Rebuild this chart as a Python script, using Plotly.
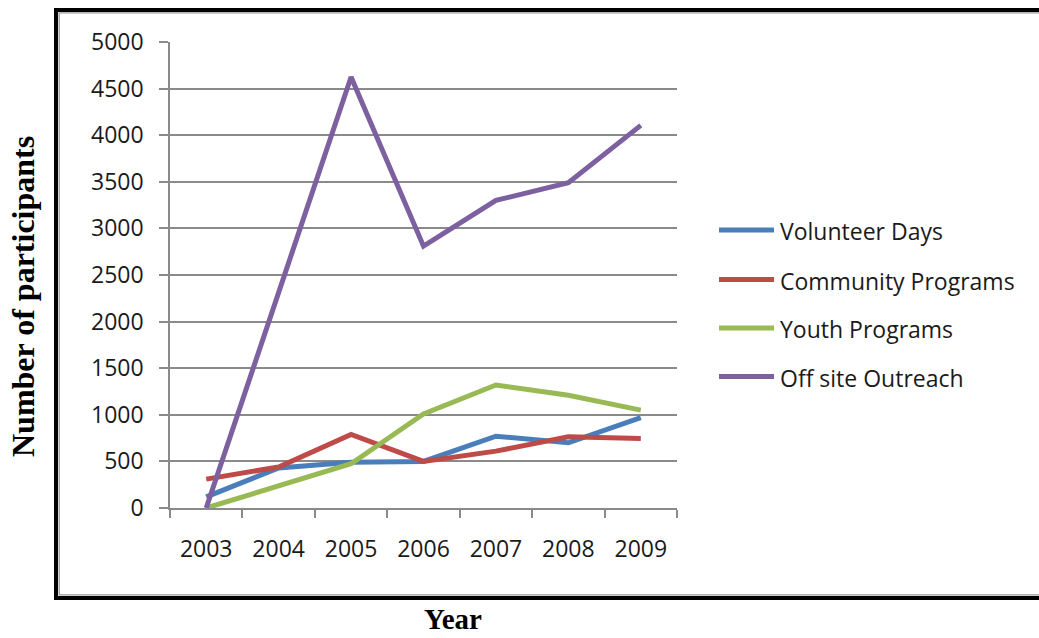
import plotly.graph_objects as go

# ---------------- data ----------------
years = ["2003", "2004", "2005", "2006", "2007", "2008", "2009"]
volunteer_days = [120, 430, 490, 500, 770, 700, 970]
community_programs = [310, 440, 790, 500, 610, 765, 745]
youth_programs = [0, 240, 475, 1010, 1320, 1210, 1050]
off_site_outreach = [0, 2320, 4625, 2810, 3300, 3490, 4105]
series_names = ["Volunteer Days", "Community Programs", "Youth Programs", "Off site Outreach"]
series_values = [volunteer_days, community_programs, youth_programs, off_site_outreach]
series_colors = ["#4A7EBB", "#BE4B48", "#98B954", "#7D60A0"]
y_ticks = [0, 500, 1000, 1500, 2000, 2500, 3000, 3500, 4000, 4500, 5000]

# ---------------- layout helpers (pixel -> paper) ----------------
W, H = 1039, 638
PL, PR, PT, PB = 170, 677, 42, 508


def px(x):
    return (x - PL) / (PR - PL)


def py(y):
    return (PB - y) / (PB - PT)


TICK_FONT = dict(family="Open Sans, Noto Sans, sans-serif", size=23, color="#1a1a1a")
YTITLE_FONT = dict(family="Liberation Serif, Times New Roman, serif", size=32, color="#000000")
XTITLE_FONT = dict(family="Liberation Serif, Times New Roman, serif", size=29, color="#000000")
GRID = "#8a8a8a"

fig = go.Figure()
for name, vals, col in zip(series_names, series_values, series_colors):
    fig.add_trace(go.Scatter(
        x=years, y=vals, mode="lines", name=name,
        line=dict(color=col, width=5),
        showlegend=False,
    ))

fig.update_layout(
    width=W, height=H,
    margin=dict(l=PL, r=W - PR, t=PT, b=H - PB, pad=0),
    paper_bgcolor="white",
    plot_bgcolor="white",
    xaxis=dict(
        type="category", range=[-0.5, len(years) - 0.5],
        tickson="boundaries", ticks="outside", ticklen=8, tickwidth=1.5, tickcolor=GRID,
        showline=True, linecolor=GRID, linewidth=1.5,
        showgrid=False, zeroline=False,
        tickfont=TICK_FONT, ticklabelstandoff=20,
    ),
    yaxis=dict(
        range=[0, 5000], tickvals=y_ticks, ticktext=[str(v) for v in y_ticks],
        ticks="outside", ticklen=9, tickwidth=1.5, tickcolor=GRID,
        showline=True, linecolor=GRID, linewidth=1.5,
        showgrid=True, gridcolor=GRID, gridwidth=1.5, zeroline=False,
        tickfont=TICK_FONT, ticklabelstandoff=11,
    ),
)

shapes = []
# outer frame (black) and inner grey rule
shapes.append(dict(type="rect", xref="paper", yref="paper",
                   x0=px(56), x1=px(1050), y0=py(598), y1=py(10),
                   line=dict(color="black", width=4), fillcolor="rgba(0,0,0,0)", layer="below"))
shapes.append(dict(type="rect", xref="paper", yref="paper",
                   x0=px(59.2), x1=px(1050), y0=py(594.8), y1=py(12.8),
                   line=dict(color="#9a9a9a", width=1.3), fillcolor="rgba(0,0,0,0)", layer="below"))

annotations = []
# manual legend
legend_rows = [230, 279.5, 328, 376.5]
for name, col, ry in zip(series_names, series_colors, legend_rows):
    shapes.append(dict(type="line", xref="paper", yref="paper",
                       x0=px(719), x1=px(774), y0=py(ry), y1=py(ry),
                       line=dict(color=col, width=5)))
    annotations.append(dict(text=name, xref="paper", yref="paper",
                            x=px(778), y=py(ry + 1), xanchor="left", yanchor="middle",
                            showarrow=False, font=TICK_FONT))

# axis titles
annotations.append(dict(text="<b>Number of participants</b>", xref="paper", yref="paper",
                        x=px(23), y=py(297), textangle=-90, xanchor="center", yanchor="middle",
                        showarrow=False, font=YTITLE_FONT))
annotations.append(dict(text="<b>Year</b>", xref="paper", yref="paper",
                        x=px(453), y=py(619), xanchor="center", yanchor="middle",
                        showarrow=False, font=XTITLE_FONT))

fig.update_layout(shapes=shapes, annotations=annotations)

fig.write_html("out.html")
